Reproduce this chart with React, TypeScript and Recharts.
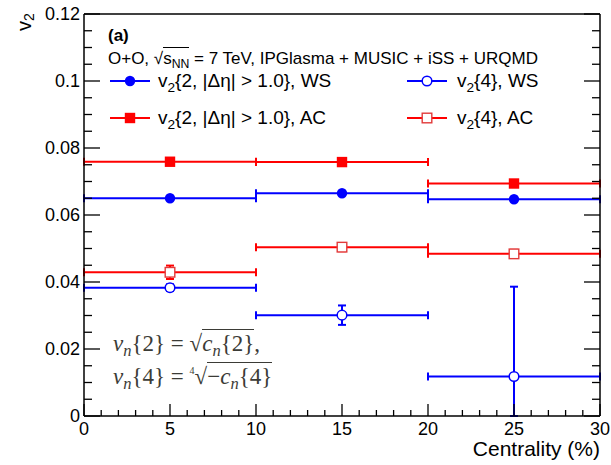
import React from 'react';
import { ComposedChart, Scatter, XAxis, YAxis, ErrorBar } from 'recharts';

// centrality bins (%)
const centrality = [5, 15, 25];
const binHalfWidth = [5, 5, 5];

// v2{2, |deta| > 1.0}
const v22WS = [0.065, 0.0665, 0.0647];
const v22WSErr = [0.0003, 0.0003, 0.0003];
const v22AC = [0.0759, 0.0758, 0.0694];
const v22ACErr = [0.0003, 0.0003, 0.0003];

// v2{4}
const v24WS = [0.0383, 0.0301, 0.0118];
const v24WSErr = [0.001, 0.0029, 0.0268];
const v24AC = [0.0429, 0.0504, 0.0484];
const v24ACErr = [0.002, 0.0012, 0.0012];

const xMajorTicks = [0, 5, 10, 15, 20, 25, 30];
const xTickLabels = ['0', '5', '10', '15', '20', '25', '30'];
const yMajorTicks = [0, 0.02, 0.04, 0.06, 0.08, 0.1, 0.12];
const yTickLabels = ['0', '0.02', '0.04', '0.06', '0.08', '0.1', '0.12'];

// minor ticks: every 1% in x, every 0.005 in y
const xAllTicks = Array.from({ length: 31 }, (_, i) => i);
const yAllTicks = Array.from({ length: 25 }, (_, i) => Math.round(i * 5) / 1000);

const BLUE = '#0000ff';
const RED = '#ff0000';
const FONT = '"Liberation Sans", Arial, Helvetica, sans-serif';
const MATH = '"Liberation Serif", "Times New Roman", serif';
const MATH_COLOR = '#3b3b36';

// error bars stop at the frame (y = 0), like the reference drawing
const toPoints = (ys: number[], errs: number[]) =>
  centrality.map((x, i) => ({ x, y: ys[i], ex: binHalfWidth[i], ey: [Math.min(errs[i], ys[i]), errs[i]] }));

const majorIndex = (v: number, majors: number[]) => majors.findIndex((m) => Math.abs(m - v) < 1e-9);

const LeftTick = (props: any) => {
  const { x, y, payload } = props;
  const idx = majorIndex(payload.value, yMajorTicks);
  const len = idx >= 0 ? 16 : 8;
  return (
    <g>
      <line x1={x} x2={x + len} y1={y} y2={y} stroke="#000" strokeWidth={1.3} />
      {idx >= 0 && (
        <text x={x - 4} y={y} textAnchor="end" dominantBaseline="central" fontSize={18} fontFamily={FONT} fill="#000">
          {yTickLabels[idx]}
        </text>
      )}
    </g>
  );
};

const RightTick = (props: any) => {
  const { x, y, payload } = props;
  const len = majorIndex(payload.value, yMajorTicks) >= 0 ? 16 : 8;
  return <line x1={x - len} x2={x} y1={y} y2={y} stroke="#000" strokeWidth={1.3} />;
};

const BottomTick = (props: any) => {
  const { x, y, payload } = props;
  const idx = majorIndex(payload.value, xMajorTicks);
  const len = idx >= 0 ? 12 : 6;
  return (
    <g>
      <line x1={x} x2={x} y1={y} y2={y - len} stroke="#000" strokeWidth={1.3} />
      {idx >= 0 && (
        <text x={x} y={y + 18.5} textAnchor="middle" fontSize={18} fontFamily={FONT} fill="#000">
          {xTickLabels[idx]}
        </text>
      )}
    </g>
  );
};

const TopTick = (props: any) => {
  const { x, y, payload } = props;
  const len = majorIndex(payload.value, xMajorTicks) >= 0 ? 12 : 6;
  return <line x1={x} x2={x} y1={y} y2={y + len} stroke="#000" strokeWidth={1.3} />;
};

const FilledCircle = (p: any) => <circle cx={p.cx} cy={p.cy} r={5.2} fill={BLUE} />;
const OpenCircle = (p: any) => <circle cx={p.cx} cy={p.cy} r={4.8} fill="#fff" stroke={BLUE} strokeWidth={1.5} />;
const FilledSquare = (p: any) => <rect x={p.cx - 5.2} y={p.cy - 5.2} width={10.4} height={10.4} fill={RED} />;
const OpenSquare = (p: any) => (
  <rect x={p.cx - 4.8} y={p.cy - 4.8} width={9.6} height={9.6} fill="#fff" stroke="#e23a3a" strokeWidth={1.4} />
);

const Sub = ({ children, drop = 5 }: { children: React.ReactNode; drop?: number }) => (
  <span style={{ fontSize: '0.72em', position: 'relative', top: drop, lineHeight: 0 }}>{children}</span>
);

const LegendMarker = ({ kind, left, top }: { kind: string; left: number; top: number }) => {
  const color = kind.endsWith('Circle') ? BLUE : RED;
  return (
    <svg width={40} height={14} style={{ position: 'absolute', left, top: top - 7 }}>
      <line x1={0} x2={40} y1={7} y2={7} stroke={color} strokeWidth={2} />
      {kind === 'filledCircle' && <FilledCircle cx={20} cy={7} />}
      {kind === 'openCircle' && <OpenCircle cx={20} cy={7} />}
      {kind === 'filledSquare' && <FilledSquare cx={20} cy={7} />}
      {kind === 'openSquare' && <OpenSquare cx={20} cy={7} />}
    </svg>
  );
};

const textStyle = (left: number, centerY: number, size = 17): React.CSSProperties => ({
  position: 'absolute',
  left,
  top: centerY - 9,
  lineHeight: '18px',
  fontSize: size,
  fontFamily: FONT,
  color: '#000',
  whiteSpace: 'nowrap',
});

const mathStyle = (left: number, centerY: number): React.CSSProperties => ({
  position: 'absolute',
  left,
  top: centerY - 11,
  lineHeight: '22px',
  fontSize: 23,
  fontFamily: MATH,
  color: MATH_COLOR,
  whiteSpace: 'nowrap',
});

const radicand: React.CSSProperties = { borderTop: `1.3px solid ${MATH_COLOR}`, paddingTop: 1 };

export default function App() {
  const errStroke = { strokeWidth: 2, width: 4 };
  return (
    <div style={{ position: 'absolute', left: 0, top: 0, width: 611, height: 465, background: '#fff' }}>
      <ComposedChart width={611} height={465} margin={{ top: 0, right: 0, bottom: 0, left: 0 }}>
        <XAxis
          xAxisId="b"
          type="number"
          dataKey="x"
          domain={[0, 30]}
          ticks={xAllTicks}
          interval={0}
          height={49}
          tickSize={0}
          tickMargin={0}
          tick={<BottomTick />}
          axisLine={{ stroke: '#000', strokeWidth: 1.5 }}
        />
        <XAxis
          xAxisId="t"
          orientation="top"
          type="number"
          dataKey="x"
          domain={[0, 30]}
          ticks={xAllTicks}
          interval={0}
          height={14}
          tickSize={0}
          tickMargin={0}
          tick={<TopTick />}
          axisLine={{ stroke: '#000', strokeWidth: 1.5 }}
        />
        <YAxis
          yAxisId="l"
          type="number"
          domain={[0, 0.12]}
          allowDataOverflow
          ticks={yAllTicks}
          interval={0}
          width={84}
          tickSize={0}
          tickMargin={0}
          tick={<LeftTick />}
          axisLine={{ stroke: '#000', strokeWidth: 1.5 }}
        />
        <YAxis
          yAxisId="r"
          orientation="right"
          type="number"
          domain={[0, 0.12]}
          allowDataOverflow
          ticks={yAllTicks}
          interval={0}
          width={11}
          tickSize={0}
          tickMargin={0}
          tick={<RightTick />}
          axisLine={{ stroke: '#000', strokeWidth: 1.5 }}
        />

        <Scatter xAxisId="b" yAxisId="l" data={toPoints(v22AC, v22ACErr)} dataKey="y" shape={<FilledSquare />} isAnimationActive={false}>
          <ErrorBar dataKey="ex" direction="x" stroke={RED} {...errStroke} />
          <ErrorBar dataKey="ey" direction="y" stroke={RED} {...errStroke} />
        </Scatter>
        <Scatter xAxisId="b" yAxisId="l" data={toPoints(v22WS, v22WSErr)} dataKey="y" shape={<FilledCircle />} isAnimationActive={false}>
          <ErrorBar dataKey="ex" direction="x" stroke={BLUE} {...errStroke} />
          <ErrorBar dataKey="ey" direction="y" stroke={BLUE} {...errStroke} />
        </Scatter>
        <Scatter xAxisId="b" yAxisId="l" data={toPoints(v24AC, v24ACErr)} dataKey="y" shape={<OpenSquare />} isAnimationActive={false}>
          <ErrorBar dataKey="ex" direction="x" stroke={RED} {...errStroke} />
          <ErrorBar dataKey="ey" direction="y" stroke={RED} {...errStroke} />
        </Scatter>
        <Scatter xAxisId="b" yAxisId="l" data={toPoints(v24WS, v24WSErr)} dataKey="y" shape={<OpenCircle />} isAnimationActive={false}>
          <ErrorBar dataKey="ex" direction="x" stroke={BLUE} {...errStroke} />
          <ErrorBar dataKey="ey" direction="y" stroke={BLUE} {...errStroke} />
        </Scatter>

        <text x={24} y={22} transform="rotate(-90 24 22)" textAnchor="middle" dominantBaseline="central" fontSize={20} fontFamily={FONT} fill="#000">
          v<tspan fontSize={14} dy={5}>2</tspan>
        </text>
        <text x={600} y={456} textAnchor="end" fontSize={21} fontFamily={FONT} fill="#000">
          Centrality (%)
        </text>
      </ComposedChart>

      <div style={{ ...textStyle(108, 36), fontWeight: 'bold' }}>(a)</div>
      <div style={textStyle(108, 59)}>
        O+O, √<span style={{ borderTop: '1.3px solid #000', paddingTop: 1 }}>s<Sub drop={4}>NN</Sub></span> = 7 TeV, IPGlasma + MUSIC + iSS + URQMD
      </div>

      <LegendMarker kind="filledCircle" left={110} top={81} />
      <div style={textStyle(158, 81, 19)}>
        v<Sub>2</Sub>{'{2, |Δη| > 1.0}, WS'}
      </div>
      <LegendMarker kind="filledSquare" left={110} top={118} />
      <div style={textStyle(158, 118, 19)}>
        v<Sub>2</Sub>{'{2, |Δη| > 1.0}, AC'}
      </div>
      <LegendMarker kind="openCircle" left={407} top={81} />
      <div style={textStyle(457, 81, 19)}>
        v<Sub>2</Sub>{'{4}, WS'}
      </div>
      <LegendMarker kind="openSquare" left={407} top={118} />
      <div style={textStyle(457, 118, 19)}>
        v<Sub>2</Sub>{'{4}, AC'}
      </div>

      <div style={mathStyle(113, 344)}>
        <i>v</i><Sub><i>n</i></Sub>{'{2} = '}√<span style={radicand}><i>c</i><Sub><i>n</i></Sub>{'{2}'}</span>,
      </div>
      <div style={mathStyle(113, 377)}>
        <i>v</i><Sub><i>n</i></Sub>{'{4} = '}
        <span style={{ fontSize: 10, position: 'relative', top: -10, lineHeight: 0 }}>4</span>√
        <span style={radicand}>−<i>c</i><Sub><i>n</i></Sub>{'{4}'}</span>
      </div>
    </div>
  );
}
